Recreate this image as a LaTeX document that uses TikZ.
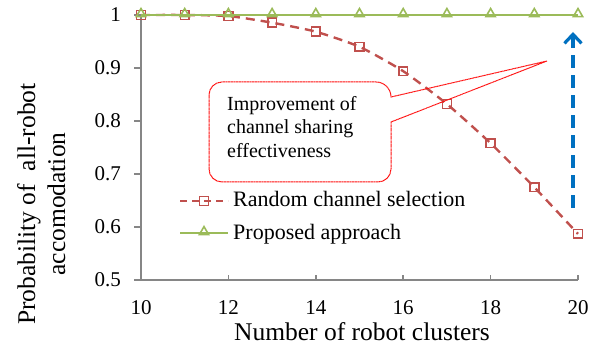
\documentclass[tikz,border=0pt]{standalone}
\usepackage{fontspec}
\setmainfont{Liberation Serif}
\usetikzlibrary{arrows.meta,plotmarks}
\definecolor{serred}{HTML}{C0504D}
\definecolor{sergreen}{HTML}{9BBB59}
\definecolor{arrowblue}{HTML}{0070C0}
\definecolor{axisgray}{HTML}{868686}
\definecolor{calloutred}{HTML}{FF1010}

\begin{document}
\begin{tikzpicture}[x=1pt,y=1pt,
  axisline/.style={axisgray,line width=1.5pt},
  ticklabel/.style={font=\fontsize{21}{25}\selectfont,inner sep=0pt},
  axislabel/.style={font=\fontsize{25.5}{30}\selectfont,inner sep=0pt},
  legendtext/.style={font=\fontsize{22}{26}\selectfont,inner sep=0pt,anchor=base west},
  randline/.style={serred,line width=2.4pt,dash pattern=on 9pt off 6pt},
  propline/.style={sergreen,line width=1.8pt},
  randmark/.style={serred,only marks,mark=square,mark size=4.4pt,mark options={solid,serred,line width=1.6pt}},
  propmark/.style={sergreen,only marks,mark=triangle,mark size=5.4pt,mark options={solid,sergreen,line width=1.6pt}},
  calloutline/.style={calloutred,line width=1pt,dash pattern=on 1.2pt off 0.4pt},
  callouttext/.style={font=\fontsize{20}{23.5}\selectfont,inner sep=0pt,align=left},
  gaparrow/.style={arrowblue,line width=3.6pt,dash pattern=on 13pt off 7pt,
    -{Straight Barb[length=9pt,width=17pt,line width=3.2pt]}}
]
\useasboundingbox (0,0) rectangle (600,355);

% axes
\draw[axisline] (141,75) -- (141,340);
\draw[axisline] (141,75) -- (578,75);
\foreach \k/\lab in {0/0.5,1/0.6,2/0.7,3/0.8,4/0.9,5/1} {
  \draw[axisline] (134,75+53*\k) -- (141,75+53*\k);
  \node[ticklabel,anchor=east] (ylab\k) at (121,75+53*\k) {\lab};
}
\foreach \k/\lab in {0/10,1/12,2/14,3/16,4/18,5/20} {
  \ifnum\k>0 \draw[axisline] (141+87.4*\k,75) -- (141+87.4*\k,80); \fi
  \node[ticklabel,anchor=base] (xlab\k) at (141+87.4*\k,40) {\lab};
}

% axis titles
\node[axislabel,anchor=base] (xtitle) at (362,14) {Number of robot clusters};
\node[axislabel,anchor=base,rotate=90] (ytitleA) at (35,151) {Probability of \ all-robot};
\node[axislabel,anchor=base,rotate=90] (ytitleB) at (65,151) {accomodation};

% data series
\begin{scope}[shift={(-296pt,-190pt)},x=43.7pt,y=530pt]
  \draw[randline] plot[smooth,tension=0.35] coordinates {
    (10,1) (11,1) (12,0.998) (13,0.9855) (14,0.9685) (15,0.940)
    (16,0.894) (17,0.832) (18,0.758) (19,0.675) (20,0.587)};
  \draw[randmark] plot coordinates {
    (10,1) (11,1) (12,0.998) (13,0.9855) (14,0.9685) (15,0.940)
    (16,0.894) (17,0.832) (18,0.758) (19,0.675) (20,0.587)};
  \draw[propline] (10,1) -- (20,1);
  \draw[propmark] plot coordinates {
    (10,1.002) (11,1.002) (12,1.002) (13,1.002) (14,1.002) (15,1.002)
    (16,1.002) (17,1.002) (18,1.002) (19,1.002) (20,1.002)};
\end{scope}

% callout
\draw[calloutline]
  (222,173) -- (378,173) arc[start angle=-90,end angle=0,radius=13]
  -- (391,233) -- (547,294) -- (391,258)
  arc[start angle=0,end angle=90,radius=15] -- (222,273)
  arc[start angle=90,end angle=180,radius=13] -- (209,186)
  arc[start angle=180,end angle=270,radius=13] -- cycle;
\node[callouttext,anchor=north west] (note) at (227,259)
  {Improvement of\\channel sharing\\effectiveness};

% legend
\coordinate (legRa) at (180,154);
\coordinate (legRb) at (228,154);
\coordinate (legPa) at (180,122);
\coordinate (legPb) at (228,122);
\draw[randline,dash pattern=on 7pt off 5pt] (legRa) -- (legRb);
\draw[randmark] plot coordinates {(204,154)};
\draw[propline] (legPa) -- (legPb);
\draw[propmark] plot coordinates {(204,123)};
\node[legendtext] (legRtext) at (233,148) {Random channel selection};
\node[legendtext] (legPtext) at (233,115) {Proposed approach};

% improvement arrow
\coordinate (gapbot) at (573,147);
\coordinate (gaptop) at (573,323);
\draw[gaparrow] (gapbot) -- (gaptop);
\end{tikzpicture}
\end{document}
